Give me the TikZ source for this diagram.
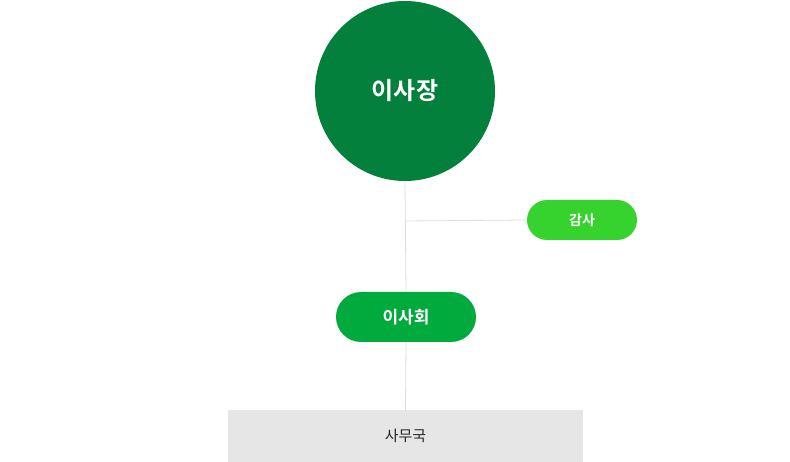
\documentclass[tikz,border=0pt]{standalone}
\usepackage{fontspec}
\setmainfont{Noto Sans CJK KR}
\newfontfamily\krb{Noto Sans CJK KR Bold}
\definecolor{dkgreen}{HTML}{02803C}
\definecolor{midgreen}{HTML}{00AA3C}
\definecolor{ltgreen}{HTML}{36D22E}
\definecolor{linegray}{HTML}{DDDDDD}
\definecolor{boxgray}{HTML}{E6E6E6}
\begin{document}
\begin{tikzpicture}[x=1pt,y=-1pt,
  pill/.style={rounded corners=20pt,text=white,inner sep=0pt},
  conn/.style={draw=linegray,line width=0.8pt}]
\useasboundingbox (0,0) rectangle (790,462);
\node[circle,fill=dkgreen,minimum size=180pt,inner sep=0pt,text=white,font=\krb\fontsize{24}{28}\selectfont] (ceo) at (405,91) {이사장};
\node[pill,fill=ltgreen,minimum width=110pt,minimum height=40pt,font=\krb\fontsize{14}{16}\selectfont] (audit) at (582,220) {감사};
\node[pill,rounded corners=25pt,fill=midgreen,minimum width=140pt,minimum height=50pt,font=\krb\fontsize{17}{20}\selectfont] (board) at (406,317) {이사회};
\node[fill=boxgray,minimum width=355pt,minimum height=52pt,inner sep=0pt,text=black!85,font=\fontsize{15}{18}\selectfont] (office) at (405.5,436) {사무국};
\draw[conn] (ceo.south) -- (board.north);
\draw[conn] (board.south) -- (office.north);
\coordinate (j) at (405,221);
\draw[conn] (j) -- (audit.west);
\end{tikzpicture}
\end{document}
